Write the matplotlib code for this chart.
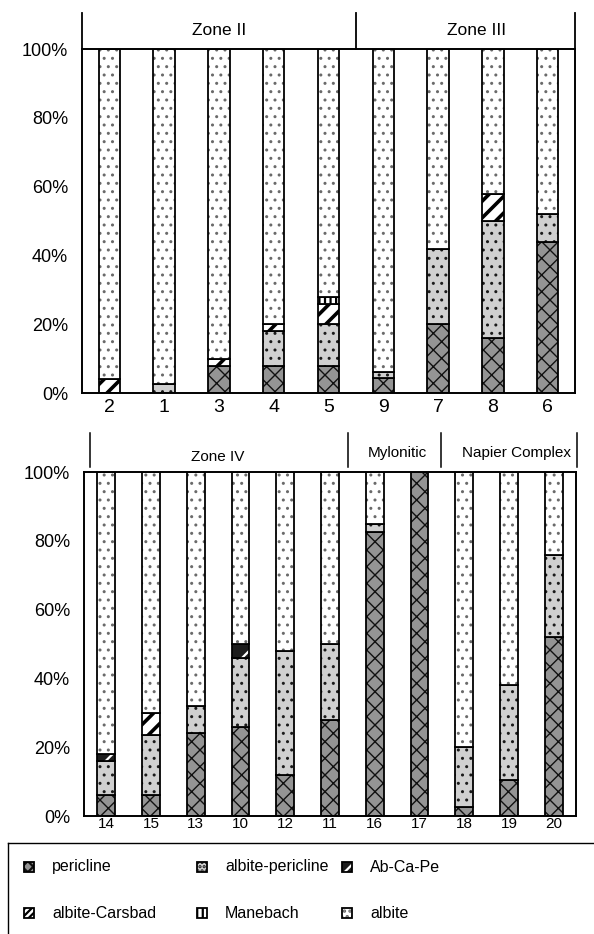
import matplotlib.pyplot as plt
from matplotlib.patches import Rectangle
from matplotlib.lines import Line2D

plt.rcParams['font.family'] = ['Liberation Sans', 'DejaVu Sans']

# 数据（百分比，从下往上堆叠）
series = ['pericline', 'albite-pericline', 'Ab-Ca-Pe', 'albite-Carsbad', 'Manebach', 'albite']

top_labels = ['2', '1', '3', '4', '5', '9', '7', '8', '6']
top_pericline = [0, 0, 8, 8, 8, 4.5, 20, 16, 44]
top_albper = [0, 2.5, 0, 10, 12, 1.5, 22, 34, 8]
top_abcape = [0, 0, 0, 0, 0, 0, 0, 0, 0]
top_carlsbad = [4, 0, 2, 2, 6, 0, 0, 8, 0]
top_manebach = [0, 0, 0, 0, 2, 0, 0, 0, 0]

bot_labels = ['14', '15', '13', '10', '12', '11', '16', '17', '18', '19', '20']
bot_pericline = [6, 6, 24, 26, 12, 28, 82.5, 100, 2.5, 10.5, 52]
bot_albper = [10, 17.5, 8, 20, 36, 22, 2.5, 0, 17.5, 27.5, 24]
bot_abcape = [2, 0, 0, 4, 0, 0, 0, 0, 0, 0, 0]
bot_carlsbad = [0, 6.5, 0, 0, 0, 0, 0, 0, 0, 0, 0]
bot_manebach = [0, 0, 0, 0, 0, 0, 0, 0, 0, 0, 0]

top_zones = ['Zone II', 'Zone III']
bot_zones = ['Zone IV', 'Mylonitic', 'Napier Complex']

# 样式: (填充色, 花纹色, 花纹, 花纹线宽)
styles = {
    'pericline': ('#949494', '#111111', 'xx', 1.0),
    'albite-pericline': ('#d0d0d0', '#1a1a1a', '..', 1.0),
    'Ab-Ca-Pe': ('#1c1c1c', 'white', '/', 1.6),
    'albite-Carsbad': ('white', 'black', '//', 2.6),
    'Manebach': ('white', 'black', '|||', 1.6),
    'albite': ('white', '#6a6a6a', '..', 1.0),
}


def hatch_bar(ax, x, h, b, w, name):
    fc, hc, hatch, hlw = styles[name]
    bars = ax.bar(x, h, w, bottom=b, color=fc, edgecolor=hc, hatch=hatch, linewidth=0)
    for p in bars:
        try:
            p.set_hatch_linewidth(hlw)
        except AttributeError:
            pass
    ax.bar(x, h, w, bottom=b, fill=False, edgecolor='black', linewidth=1.3)


def draw_panel(ax, labels, cols, width, xfs):
    n = len(labels)
    bottom = [0] * n
    for name, vals in zip(series, cols):
        for i in range(n):
            if vals[i] > 0:
                hatch_bar(ax, i, vals[i], bottom[i], width, name)
                bottom[i] += vals[i]
    albite = [100 - s for s in bottom]
    for i in range(n):
        if albite[i] > 0:
            hatch_bar(ax, i, albite[i], bottom[i], width, 'albite')
    ax.set_xlim(-0.5, n - 0.5)
    ax.set_ylim(0, 100)
    ax.set_xticks(range(n))
    ax.set_xticklabels(labels, fontsize=xfs)
    ax.set_yticks(range(0, 101, 20))
    ax.set_yticklabels([f'{v}%' for v in range(0, 101, 20)], fontsize=13)
    ax.tick_params(length=0)
    ax.tick_params(axis='y', pad=10)
    for s in ax.spines.values():
        s.set_linewidth(1.4)


fig = plt.figure(figsize=(5.94, 9.34), dpi=100)

ax1 = fig.add_axes([0.138, 0.5792, 0.830, 0.3683])
draw_panel(ax1, top_labels,
           [top_pericline, top_albper, top_abcape, top_carlsbad, top_manebach], 0.39, 14)
ax1.tick_params(axis='x', pad=4)
tr1 = ax1.get_xaxis_transform()
for xb in [-0.5, 4.5, 8.5]:
    ax1.plot([xb, xb], [1.0, 1.105], color='black', lw=1.3, transform=tr1, clip_on=False)
for zx, zname in zip([2.0, 6.7], top_zones):
    ax1.text(zx, 1.055, zname, transform=tr1, ha='center', va='center', fontsize=12.5)

ax2 = fig.add_axes([0.1414, 0.1263, 0.8283, 0.3683])
draw_panel(ax2, bot_labels,
           [bot_pericline, bot_albper, bot_abcape, bot_carlsbad, bot_manebach], 0.40, 11)
ax2.tick_params(axis='x', pad=1)
tr2 = ax2.get_xaxis_transform()
for xb in [-0.37, 5.41, 7.49, 10.53]:
    ax2.plot([xb, xb], [1.0145, 1.113], color='black', lw=1.1, transform=tr2, clip_on=False)
for zx, zy, zname in zip([2.48, 6.5, 9.16], [1.044, 1.055, 1.055], bot_zones):
    ax2.text(zx, zy, zname, transform=tr2, ha='center', va='center', fontsize=11)

# 图例框
W, H = 594, 934
fig.add_artist(Line2D([8 / W, 1.0], [1 - 843 / H, 1 - 843 / H], color='black', lw=1.0))
fig.add_artist(Line2D([8 / W, 8 / W], [1 - 843 / H, 0.0], color='black', lw=1.0))

legend_order = ['pericline', 'albite-pericline', 'Ab-Ca-Pe', 'albite-Carsbad', 'Manebach', 'albite']
legend_hatch = {'pericline': 'xxx', 'albite-pericline': '....', 'Ab-Ca-Pe': '//',
                'albite-Carsbad': '/////', 'Manebach': '|||', 'albite': '...'}
col_x = [29, 202, 347]
row_y = [867, 913]
sq = 10
for k, name in enumerate(legend_order):
    cx = col_x[k % 3]
    cy = row_y[k // 3]
    fc, hc, hatch, hlw = styles[name]
    xy = ((cx - sq / 2) / W, 1 - (cy + sq / 2) / H)
    r = Rectangle(xy, sq / W, sq / H, transform=fig.transFigure, facecolor=fc,
                  edgecolor=hc, hatch=legend_hatch[name], linewidth=0)
    try:
        r.set_hatch_linewidth(1.6)
    except AttributeError:
        pass
    fig.add_artist(r)
    fig.add_artist(Rectangle(xy, sq / W, sq / H, transform=fig.transFigure,
                             fill=False, edgecolor='black', linewidth=1.3))
    fig.text((cx + 23) / W, 1 - cy / H, name, ha='left', va='center', fontsize=11.5)

plt.savefig('out.png', dpi=100)
